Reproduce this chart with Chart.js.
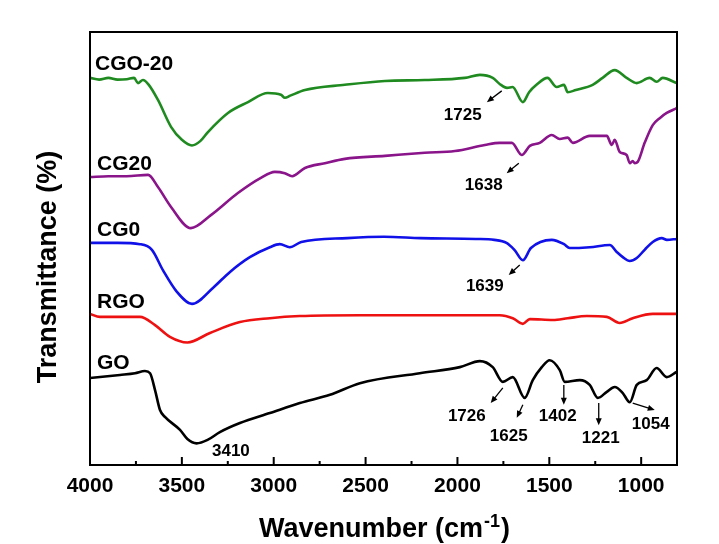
<!DOCTYPE html>
<html><head><meta charset="utf-8">
<script src="https://cdn.jsdelivr.net/npm/chart.js@4"></script>
<style>html,body{margin:0;padding:0;background:#fff}#wrap{width:719px;height:544px}</style>
</head><body><div id="wrap"><canvas id="c" width="719" height="544"></canvas></div>
<script>
// ---- data (wavenumber cm-1, relative transmittance, offset per curve) ----
const majorTicks = [4000,3500,3000,2500,2000,1500,1000];
const minorTicks = [3750,3250,2750,2250,1750,1250];

const cgo20 = [[4000,89.4],[3950,89.0],[3900,89.4],[3850,89.0],[3800,89.1],[3760,89.4],[3739,88.2],[3712,88.9],[3680,87.8],[3630,84.3],[3559,78.1],[3500,75.1],[3445,73.8],[3400,74.8],[3358,76.9],[3249,81.3],[3140,83.8],[3032,85.9],[2961,85.5],[2939,84.8],[2910,85.3],[2830,86.6],[2613,87.8],[2395,88.7],[2178,88.9],[1960,89.4],[1878,90.1],[1808,89.4],[1770,88.0],[1730,87.1],[1700,87.3],[1644,83.8],[1610,86.1],[1570,87.8],[1510,89.4],[1460,87.3],[1420,87.8],[1400,86.1],[1356,86.6],[1264,87.8],[1210,89.4],[1144,91.2],[1079,89.4],[1024,88.2],[954,89.4],[916,88.5],[883,89.4],[807,88.2]];

const cg20 = [[4000,66.5],[3900,66.7],[3800,66.7],[3684,67.0],[3630,64.2],[3559,59.6],[3451,54.7],[3342,57.7],[3195,62.8],[3070,66.3],[2994,67.7],[2940,67.4],[2900,66.7],[2830,68.6],[2722,69.7],[2613,70.7],[2395,71.4],[2178,72.1],[2014,72.5],[1851,73.9],[1770,74.4],[1704,74.4],[1650,71.6],[1606,73.7],[1552,74.4],[1487,76.2],[1443,75.3],[1400,75.6],[1372,74.4],[1280,76.0],[1187,76.0],[1160,73.9],[1144,75.1],[1117,72.3],[1079,71.6],[1062,69.7],[1046,70.2],[1035,69.7],[1019,70.0],[981,74.4],[937,78.5],[899,80.1],[861,81.3],[807,82.4]];

const cg0 = [[4000,51.3],[3850,51.3],[3728,51.0],[3663,49.7],[3603,45.0],[3527,40.0],[3445,37.2],[3331,40.9],[3238,44.6],[3130,48.0],[3021,50.3],[2967,51.0],[2913,50.3],[2850,51.5],[2600,52.4],[2400,52.7],[2200,52.4],[1900,52.2],[1800,52.0],[1733,51.3],[1690,49.7],[1644,47.3],[1600,50.1],[1487,52.0],[1420,51.0],[1389,50.1],[1280,50.3],[1171,50.8],[1133,49.2],[1100,48.0],[1062,47.1],[1024,47.8],[981,49.7],[937,51.5],[888,52.4],[860,52.0],[807,52.2]];

const rgo = [[4000,34.9],[3946,34.2],[3782,34.2],[3728,34.2],[3646,32.3],[3565,29.6],[3470,28.3],[3347,30.5],[3184,33.0],[3021,33.9],[2858,34.4],[2531,34.6],[2000,34.6],[1770,34.6],[1699,33.9],[1644,32.6],[1606,33.7],[1480,33.5],[1400,33.9],[1296,34.4],[1187,34.2],[1117,32.8],[1046,33.9],[937,34.9],[807,34.9]];

const go = [[4000,20.1],[3837,20.8],[3755,21.2],[3701,21.7],[3673,21.2],[3646,17.3],[3619,12.7],[3592,11.1],[3510,8.1],[3470,6.0],[3420,5.0],[3360,5.8],[3293,7.6],[3184,9.7],[3021,12.0],[2858,14.3],[2694,16.2],[2531,18.9],[2205,21.2],[1987,22.6],[1878,24.0],[1808,22.6],[1753,19.2],[1699,20.3],[1634,15.5],[1590,19.6],[1541,22.6],[1498,24.2],[1443,21.9],[1416,19.2],[1334,19.6],[1280,18.5],[1236,15.5],[1187,16.9],[1144,18.0],[1100,16.6],[1062,14.5],[1024,18.5],[970,19.6],[916,22.4],[861,20.3],[807,21.5]];

const seriesNames = ['CGO-20','CG20','CG0','RGO','GO'];
const seriesColors = ['#1f8a1f','#8a148a','#1010e8','#ee1111','#000000'];
const seriesData = [cgo20, cg20, cg0, rgo, go];
// series name label anchors [wavenumber, value]
const nameAnchors = [[3973,92.6],[3962,69.5],[3962,54.3],[3962,37.6],[3962,23.6]];

// peak labels: text, [wn, val] of label centre, arrow from [wn,val] to [wn,val] (null = no arrow)
const peakText = ['1725','1638','1639','3410','1726','1625','1402','1221','1054'];
const peakPos = [[1971,80.8],[1857,64.7],[1851,41.3],[3233,3.2],[1949,11.3],[1721,6.7],[1454,11.3],[1220,6.2],[948,9.5]];
const arrowFrom = [[1759,86.4],[1666,69.7],[1661,46.2],null,[1753,17.8],[1644,13.9],[1421,18.5],[1231,14.3],[1046,14.3]];
const arrowTo = [[1840,83.8],[1732,67.4],[1721,43.9],null,[1819,14.3],[1677,10.9],[1421,13.9],[1231,9.2],[926,12.7]];

const FONT = '"Liberation Sans", Arial, Helvetica, sans-serif';

const deco = {
  id: 'deco',
  afterDatasetsDraw(chart) {
    const {ctx, chartArea: a, scales: {x, y}} = chart;
    ctx.save();
    ctx.fillStyle = '#000'; ctx.strokeStyle = '#000';
    // frame
    ctx.lineWidth = 2;
    ctx.strokeRect(a.left, a.top, a.right - a.left, a.bottom - a.top);
    // inward ticks
    ctx.beginPath();
    majorTicks.forEach(v => { const p = x.getPixelForValue(v); ctx.moveTo(p, a.bottom); ctx.lineTo(p, a.bottom - 8); });
    minorTicks.forEach(v => { const p = x.getPixelForValue(v); ctx.moveTo(p, a.bottom); ctx.lineTo(p, a.bottom - 4); });
    ctx.stroke();
    // tick labels
    ctx.font = 'bold 21px ' + FONT;
    ctx.textAlign = 'center'; ctx.textBaseline = 'middle';
    majorTicks.forEach(v => ctx.fillText(String(v), x.getPixelForValue(v), a.bottom + 21));
    // x title with superscript
    const cx = (a.left + a.right) / 2, by = 537;
    const t1 = 'Wavenumber (cm', t2 = '-1', t3 = ')';
    ctx.textBaseline = 'alphabetic'; ctx.textAlign = 'left';
    const f1 = 'bold 27px ' + FONT, f2 = 'bold 18px ' + FONT;
    ctx.font = f1; const w1 = ctx.measureText(t1).width, w3 = ctx.measureText(t3).width;
    ctx.font = f2; const w2 = ctx.measureText(t2).width;
    let sx = cx - (w1 + w2 + w3) / 2;
    ctx.font = f1; ctx.fillText(t1, sx, by);
    ctx.font = f2; ctx.fillText(t2, sx + w1 + 1, by - 10);
    ctx.font = f1; ctx.fillText(t3, sx + w1 + w2 + 2, by);
    // y title
    ctx.save();
    ctx.translate(56, 267); ctx.rotate(-Math.PI / 2);
    ctx.textAlign = 'center'; ctx.font = 'bold 27px ' + FONT;
    ctx.fillText('Transmittance (%)', 0, 0);
    ctx.restore();
    // series names
    ctx.font = 'bold 21px ' + FONT; ctx.textAlign = 'left'; ctx.textBaseline = 'middle';
    seriesNames.forEach((n, i) => ctx.fillText(n, x.getPixelForValue(nameAnchors[i][0]), y.getPixelForValue(nameAnchors[i][1])));
    // peak labels + arrows
    ctx.font = 'bold 17px ' + FONT; ctx.textAlign = 'center';
    peakText.forEach((t, i) => {
      ctx.fillText(t, x.getPixelForValue(peakPos[i][0]), y.getPixelForValue(peakPos[i][1]));
      if (!arrowFrom[i]) return;
      const x0 = x.getPixelForValue(arrowFrom[i][0]), y0 = y.getPixelForValue(arrowFrom[i][1]);
      const x1 = x.getPixelForValue(arrowTo[i][0]), y1 = y.getPixelForValue(arrowTo[i][1]);
      const ang = Math.atan2(y1 - y0, x1 - x0), L = 7, W = 3;
      ctx.lineWidth = 1.3;
      ctx.beginPath(); ctx.moveTo(x0, y0);
      ctx.lineTo(x1 - Math.cos(ang) * L * 0.8, y1 - Math.sin(ang) * L * 0.8); ctx.stroke();
      ctx.beginPath();
      ctx.moveTo(x1, y1);
      ctx.lineTo(x1 - Math.cos(ang) * L - Math.sin(ang) * W, y1 - Math.sin(ang) * L + Math.cos(ang) * W);
      ctx.lineTo(x1 - Math.cos(ang) * L + Math.sin(ang) * W, y1 - Math.sin(ang) * L - Math.cos(ang) * W);
      ctx.closePath(); ctx.fill();
    });
    ctx.restore();
  }
};

new Chart(document.getElementById('c'), {
  type: 'line',
  data: {
    datasets: seriesData.map((d, i) => ({
      label: seriesNames[i],
      data: d.map(p => ({x: p[0], y: p[1]})),
      borderColor: seriesColors[i],
      borderWidth: 2.6,
      pointRadius: 0,
      cubicInterpolationMode: 'monotone',
      fill: false
    }))
  },
  options: {
    responsive: false,
    animation: false,
    layout: {padding: {left: 90, top: 32, right: 42, bottom: 79}},
    plugins: {legend: {display: false}, tooltip: {enabled: false}},
    scales: {
      x: {type: 'linear', reverse: true, min: 805, max: 4000, display: false},
      y: {type: 'linear', min: 0, max: 100, display: false}
    }
  },
  plugins: [deco]
});
</script>
</body></html>
